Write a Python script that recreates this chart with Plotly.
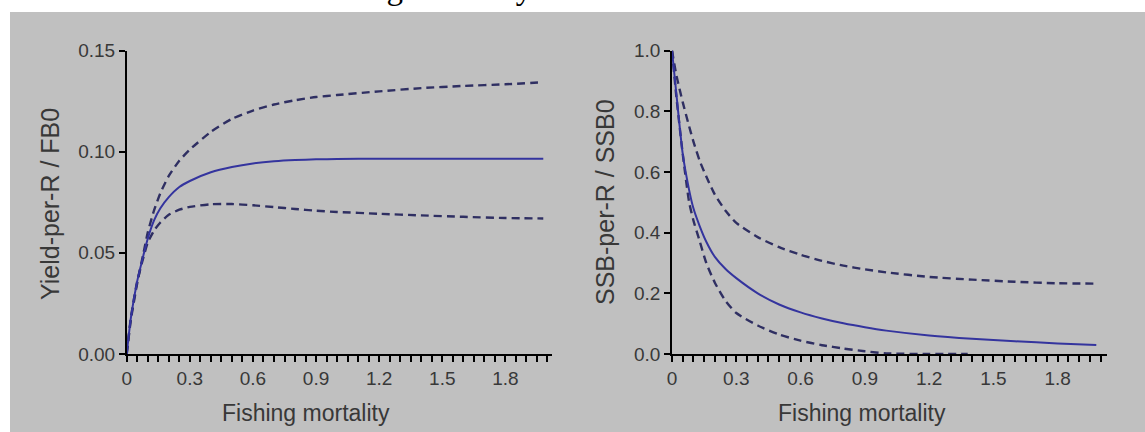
import plotly.graph_objects as go

# ---- data ----
F = [0, 0.02, 0.05, 0.08, 0.1, 0.13, 0.16, 0.2, 0.25, 0.3, 0.4, 0.5, 0.6, 0.7,
     0.8, 0.9, 1.0, 1.2, 1.4, 1.6, 1.8, 1.98]

yield_med = [0, 0.018, 0.036, 0.049, 0.057, 0.066, 0.072, 0.0775, 0.0825, 0.0855,
             0.0898, 0.0924, 0.0942, 0.0953, 0.0959, 0.0962, 0.0964, 0.0965,
             0.0965, 0.0965, 0.0965, 0.0965]
yield_hi = [0, 0.017, 0.035, 0.05, 0.06, 0.071, 0.0795, 0.088, 0.0955, 0.101,
            0.1098, 0.1162, 0.1203, 0.1233, 0.1254, 0.127, 0.128, 0.1298,
            0.1314, 0.1325, 0.1333, 0.1343]
yield_lo = [0, 0.018, 0.036, 0.048, 0.055, 0.061, 0.065, 0.0688, 0.0713, 0.0727,
            0.0740, 0.0741, 0.0735, 0.0726, 0.0717, 0.0708, 0.0702, 0.0693,
            0.0685, 0.0678, 0.0672, 0.067]

ssb_med = [1.0, 0.86, 0.66, 0.54, 0.48, 0.42, 0.37, 0.32, 0.28, 0.25, 0.2,
           0.163, 0.137, 0.117, 0.101, 0.088, 0.077, 0.061, 0.05, 0.042, 0.035,
           0.030]
ssb_hi = [1.0, 0.92, 0.83, 0.75, 0.70, 0.635, 0.585, 0.525, 0.472, 0.432, 0.385,
          0.352, 0.327, 0.307, 0.291, 0.279, 0.269, 0.254, 0.245, 0.238, 0.233,
          0.232]
F_lo = [0, 0.02, 0.05, 0.08, 0.1, 0.13, 0.16, 0.2, 0.25, 0.3, 0.4, 0.5, 0.6,
        0.7, 0.8, 0.9, 1.0, 1.2, 1.38]
ssb_lo = [1.0, 0.85, 0.66, 0.50, 0.44, 0.37, 0.30, 0.235, 0.175, 0.135, 0.094,
          0.064, 0.044, 0.029, 0.018, 0.009, 0.002, 0.0, 0.0]

x_ticks = [0, 0.3, 0.6, 0.9, 1.2, 1.5, 1.8]
yield_ticks = [0.0, 0.05, 0.10, 0.15]
ssb_ticks = [0.0, 0.2, 0.4, 0.6, 0.8, 1.0]

title_text = "Fishing mortality for all sectors combined"
x_title = "Fishing mortality"
y1_title = "Yield-per-R / FB0"
y2_title = "SSB-per-R / SSB0"

# ---- style ----
W, H = 1145, 432
SOLID = "#34349e"
DASH = "#2f2f62"
TXT = "#383838"
FONT = "Liberation Sans, Arial, sans-serif"

fig = go.Figure()

def add(x, y, xa, ya, dashed):
    fig.add_trace(go.Scatter(
        x=x, y=y, xaxis=xa, yaxis=ya, mode="lines",
        line=dict(color=DASH if dashed else SOLID, width=2.4 if dashed else 2,
                  dash="8px,5px" if dashed else "solid", shape="spline",
                  smoothing=0.6),
        showlegend=False, hoverinfo="skip"))

add(F, yield_hi, "x", "y", True)
add(F, yield_lo, "x", "y", True)
add(F, yield_med, "x", "y", False)
add(F, ssb_hi, "x2", "y2", True)
add(F_lo, ssb_lo, "x2", "y2", True)
add(F, ssb_med, "x2", "y2", False)

def px_x(p):
    return p / W

def px_y(p):
    return 1 - p / H

ydom = [px_y(354), px_y(50.5)]
axis_common = dict(showline=True, linecolor="black", linewidth=1.5,
                   ticks="outside", ticklen=6, tickwidth=1.5, tickcolor="black",
                   showgrid=False, zeroline=False, automargin=False,
                   tickfont=dict(family=FONT, size=19, color=TXT))

fig.update_layout(
    width=W, height=H,
    margin=dict(l=0, r=0, t=0, b=0, pad=0, autoexpand=False),
    paper_bgcolor="white", plot_bgcolor="rgba(0,0,0,0)",
    xaxis=dict(domain=[px_x(126.7), px_x(551.7)], range=[0, 2.02],
               tickmode="array", tickvals=x_ticks, anchor="y",
               minor=dict(dtick=0.05, tick0=0, ticks="outside", ticklen=6,
                          tickwidth=1.5, tickcolor="black", showgrid=False),
               **axis_common),
    yaxis=dict(domain=ydom, range=[0, 0.15], tickmode="array",
               tickvals=yield_ticks, tickformat=".2f", anchor="x",
               **axis_common),
    xaxis2=dict(domain=[px_x(672), px_x(1107)], range=[0, 2.03],
                tickmode="array", tickvals=x_ticks, anchor="y2",
                minor=dict(dtick=0.05, tick0=0, ticks="outside", ticklen=6,
                           tickwidth=1.5, tickcolor="black", showgrid=False),
                **axis_common),
    yaxis2=dict(domain=ydom, range=[0, 1.0], tickmode="array",
                tickvals=ssb_ticks, tickformat=".1f", anchor="x2",
                **axis_common),
    shapes=[dict(type="rect", xref="paper", yref="paper", layer="below",
                 x0=px_x(10), x1=1, y0=0, y1=px_y(12),
                 fillcolor="#c0c0c0", line=dict(width=0))],
    annotations=[
        dict(text=title_text, xref="paper", yref="paper", x=px_x(581),
             y=px_y(-12), xanchor="center", yanchor="middle", showarrow=False,
             font=dict(family="Liberation Serif, Times New Roman, serif",
                       size=33, color="black")),
        dict(text=x_title, xref="paper", yref="paper", x=px_x(306),
             y=px_y(413), xanchor="center", yanchor="middle", showarrow=False,
             font=dict(family=FONT, size=23, color=TXT)),
        dict(text=x_title, xref="paper", yref="paper", x=px_x(862),
             y=px_y(413), xanchor="center", yanchor="middle", showarrow=False,
             font=dict(family=FONT, size=23, color=TXT)),
        dict(text=y1_title, xref="paper", yref="paper", x=px_x(50),
             y=px_y(204), xanchor="center", yanchor="middle", showarrow=False,
             textangle=-90, font=dict(family=FONT, size=25, color=TXT)),
        dict(text=y2_title, xref="paper", yref="paper", x=px_x(605),
             y=px_y(202), xanchor="center", yanchor="middle", showarrow=False,
             textangle=-90, font=dict(family=FONT, size=25, color=TXT)),
    ],
)

fig.write_html("out.html")
